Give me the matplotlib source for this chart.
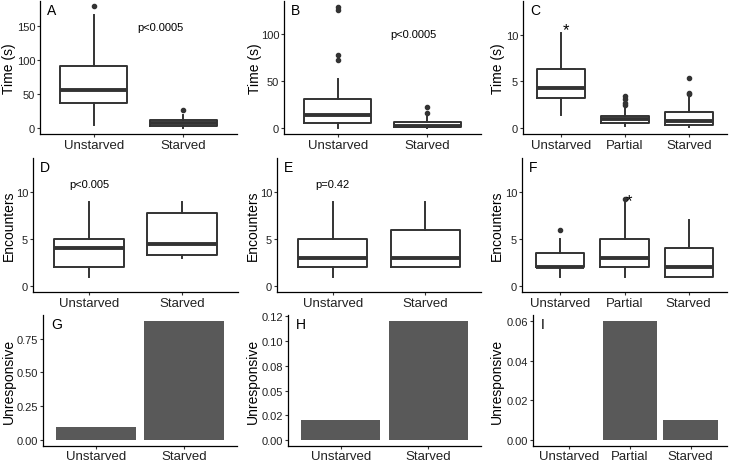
import matplotlib
matplotlib.use("Agg")
import matplotlib.pyplot as plt

plt.rcParams['font.family'] = ['Liberation Sans', 'DejaVu Sans']

# ---------------- data ----------------
two_groups = ["Unstarved", "Starved"]
three_groups = ["Unstarved", "Partial", "Starved"]

# Panel A: Time (s)
A_q1 = [37, 3]
A_med = [56, 7]
A_q3 = [91, 11]
A_lo = [4, 0]
A_hi = [166, 19]
A_out = [[179], [26]]

# Panel B: Time (s)
B_q1 = [5.3, 0.7]
B_med = [13.5, 2]
B_q3 = [31, 6.4]
B_lo = [0.3, 0]
B_hi = [52, 13]
B_out = [[72, 77, 125, 128], [16, 22.7]]

# Panel C: Time (s)
C_q1 = [3.27, 0.53, 0.35]
C_med = [4.27, 0.92, 0.71]
C_q3 = [6.37, 1.31, 1.67]
C_lo = [1.35, 0.25, 0.15]
C_hi = [10.25, 2.1, 3.3]
C_out = [[], [2.49, 2.7, 3.13, 3.48], [3.6, 3.75, 5.35]]

# Panel D: Encounters
D_q1 = [2, 3.25]
D_med = [4, 4.5]
D_q3 = [5, 7.75]
D_lo = [1, 3]
D_hi = [9, 9]
D_out = [[], []]

# Panel E: Encounters
E_q1 = [2, 2]
E_med = [3, 3]
E_q3 = [5, 6]
E_lo = [1, 2]
E_hi = [9, 9]
E_out = [[], []]

# Panel F: Encounters
F_q1 = [2, 2, 1]
F_med = [2, 3, 2]
F_q3 = [3.5, 5, 4]
F_lo = [1, 1, 1]
F_hi = [5, 9, 7]
F_out = [[6], [9.3], []]

# Panels G-I: Unresponsive proportion
G_vals = [0.10, 0.88]
H_vals = [0.02, 0.12]
I_vals = [0.0, 0.06, 0.01]

# ---------------- style ----------------
W, H = 729, 464
fig = plt.figure(figsize=(W / 100, H / 100), dpi=100)

BOXC = "#333333"
BARC = "#595959"
TICKFS = 8
XTICKFS = 9.5
TITLEFS = 10
LETTERFS = 10
PFS = 8


def make_ax(x0, x1, y0, y1, label_right):
    ax = fig.add_axes([x0 / W, 1 - y1 / H, (x1 - x0) / W, (y1 - y0) / H])
    for s in ("top", "right"):
        ax.spines[s].set_visible(False)
    for s in ("left", "bottom"):
        ax.spines[s].set_linewidth(0.9)
        ax.spines[s].set_color("black")
    ax.tick_params(axis="both", length=2.5, width=0.8, color="#333333",
                   labelcolor="#222222", pad=1)
    ax.tick_params(axis="y", labelsize=TICKFS)
    ax._label_x = (label_right - x0) / (x1 - x0)
    return ax


def place_ylabel(ax, text):
    ax.set_ylabel(text, fontsize=TITLEFS)
    ax.yaxis.set_label_coords(ax._label_x, 0.5)


def boxpanel(ax, labels, q1, med, q3, lo, hi, out, ylim, yticks, ylabel, letter):
    stats = []
    for i in range(len(labels)):
        stats.append(dict(q1=q1[i], med=med[i], q3=q3[i], whislo=lo[i],
                          whishi=hi[i], fliers=out[i], label=labels[i]))
    pos = list(range(1, len(labels) + 1))
    ax.bxp(stats, positions=pos, widths=0.75, showcaps=False,
           boxprops=dict(color=BOXC, linewidth=1.4),
           whiskerprops=dict(color=BOXC, linewidth=1.4),
           medianprops=dict(color=BOXC, linewidth=2.8, solid_capstyle="butt"),
           flierprops=dict(marker="o", markersize=3, markerfacecolor=BOXC,
                           markeredgecolor=BOXC))
    ax.set_xlim(0.4, len(labels) + 0.6)
    ax.set_ylim(*ylim)
    ax.set_yticks(yticks)
    ax.set_xticks(pos)
    ax.set_xticklabels(labels, fontsize=XTICKFS)
    place_ylabel(ax, ylabel)
    ax.text(0.035, 0.93, letter, transform=ax.transAxes, fontsize=LETTERFS,
            ha="left", va="center")


def barpanel(ax, labels, vals, ylim, yticks, yticklabels, letter):
    pos = list(range(1, len(labels) + 1))
    ax.bar(pos, vals, width=0.9, color=BARC, linewidth=0)
    ax.set_xlim(0.4, len(labels) + 0.6)
    ax.set_ylim(*ylim)
    ax.set_yticks(yticks)
    ax.set_yticklabels(yticklabels)
    ax.set_xticks(pos)
    ax.set_xticklabels(labels, fontsize=XTICKFS)
    ax.tick_params(axis="x", pad=0.5)
    place_ylabel(ax, "Unresponsive")
    ax.text(0.04, 0.93, letter, transform=ax.transAxes, fontsize=LETTERFS,
            ha="left", va="center")


# Row 1
axA = make_ax(40, 237, 2, 135, 16)
boxpanel(axA, two_groups, A_q1, A_med, A_q3, A_lo, A_hi, A_out,
         (-9, 187), [0, 50, 100, 150], "Time (s)", "A")
axA.text(1.74, 148, "p<0.0005", fontsize=PFS, ha="center", va="center")

axB = make_ax(284, 481, 2, 135, 262)
boxpanel(axB, two_groups, B_q1, B_med, B_q3, B_lo, B_hi, B_out,
         (-6.4, 134.5), [0, 50, 100], "Time (s)", "B")
axB.text(1.84, 100, "p<0.0005", fontsize=PFS, ha="center", va="center")

axC = make_ax(523, 727, 2, 135, 505)
boxpanel(axC, three_groups, C_q1, C_med, C_q3, C_lo, C_hi, C_out,
         (-0.65, 13.65), [0, 5, 10], "Time (s)", "C")
axC.text(1.07, 10.6, "*", fontsize=12, ha="center", va="center")

# Row 2
axD = make_ax(33, 238, 159, 293, 16)
boxpanel(axD, two_groups, D_q1, D_med, D_q3, D_lo, D_hi, D_out,
         (-0.65, 13.65), [0, 5, 10], "Encounters", "D")
axD.text(1.0, 10.9, "p<0.005", fontsize=PFS, ha="center", va="center")

axE = make_ax(277, 481, 159, 293, 260)
boxpanel(axE, two_groups, E_q1, E_med, E_q3, E_lo, E_hi, E_out,
         (-0.65, 13.65), [0, 5, 10], "Encounters", "E")
axE.text(1.0, 10.9, "p=0.42", fontsize=PFS, ha="center", va="center")

axF = make_ax(522, 727, 159, 293, 504)
boxpanel(axF, three_groups, F_q1, F_med, F_q3, F_lo, F_hi, F_out,
         (-0.65, 13.65), [0, 5, 10], "Encounters", "F")
axF.text(2.07, 9.1, "*", fontsize=12, ha="center", va="center")

# Row 3
axG = make_ax(43, 237, 316, 447, 16)
barpanel(axG, two_groups, G_vals, (-0.044, 0.925),
         [0, 0.25, 0.5, 0.75], ["0.00", "0.25", "0.50", "0.75"], "G")

axH = make_ax(288, 481, 316, 447, 260)
barpanel(axH, two_groups, H_vals, (-0.006, 0.1265),
         [0, 0.025, 0.05, 0.075, 0.1, 0.125],
         ["0.00", "0.02", "0.05", "0.08", "0.10", "0.12"], "H")

axI = make_ax(533, 727, 316, 447, 504)
barpanel(axI, three_groups, I_vals, (-0.003, 0.063),
         [0, 0.02, 0.04, 0.06], ["0.00", "0.02", "0.04", "0.06"], "I")

fig.savefig("out.png", dpi=100)
